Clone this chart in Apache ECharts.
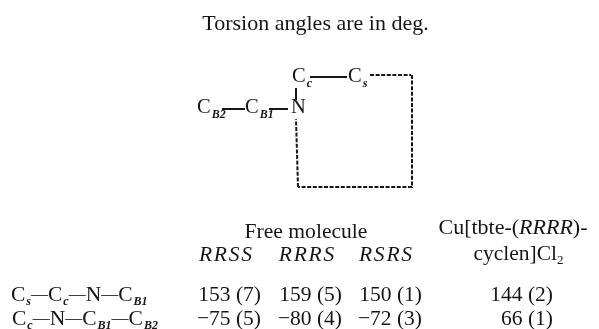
<!DOCTYPE html>
<html><head><meta charset="utf-8">
<style>html,body{margin:0;padding:0;background:#fff}#c{width:599px;height:329px}</style>
<script src="https://cdn.jsdelivr.net/npm/echarts@6/dist/echarts.min.js"></script>
</head><body><div id="c"></div>
<script>
const titleText = 'Torsion angles are in deg.';
const groupHead = 'Free molecule';
const isomers = ['RRSS','RRRS','RSRS'];
const complexLine1 = '{b|Cu[tbte-(}{j|RRRR}{b|)-}';
const complexLine2 = '{c|cyclen]Cl}{d|2}';
const rowLabels = ['{c|C}{s|s}{m|\u2014}{c|C}{s|c}{m|\u2014}{c|N}{m|\u2014}{c|C}{s|B1}','{c|C}{s|c}{m|\u2014}{c|N}{m|\u2014}{c|C}{s|B1}{m|\u2014}{c|C}{s|B2}'];
const row1Values = ['153 (7)','159 (5)','150 (1)','144 (2)'];
const row2Values = ['\u221275 (5)','\u221280 (4)','\u221272 (3)','66 (1)'];
const atomLabels = ['{n|C}{s|c}','{n|C}{s|s}','{n|N}','{n|C}{s|B2}','{n|C}{s|B1}'];

const F = '"Liberation Serif","Times New Roman",serif';
const FS = 20.5;
const ink = '#161616';
const rich = {
  n:{fontFamily:F,fontSize:FS,fill:ink,lineHeight:26},
  b:{fontFamily:F,fontSize:22,fill:ink,lineHeight:26},
  c:{fontFamily:F,fontSize:21.5,fill:ink,lineHeight:26},
  m:{fontFamily:F,fontSize:17,fill:ink,lineHeight:26},
  j:{fontFamily:F,fontSize:22,fontStyle:'italic',fill:ink,lineHeight:26},
  i:{fontFamily:F,fontSize:21.5,fontStyle:'italic',fill:ink,lineHeight:26},
  s:{fontFamily:F,fontSize:12,fontStyle:'italic',fontWeight:'bold',fill:ink,lineHeight:26,verticalAlign:'bottom',padding:[0,0,0,1]},
  d:{fontFamily:F,fontSize:13,fill:ink,lineHeight:26,verticalAlign:'bottom'}
};
function T(x,y,text,opts){
  return {type:'text',x,y,silent:true,style:Object.assign({text,rich,fontFamily:F,fontSize:FS,fill:ink,
    textAlign:'center',textVerticalAlign:'middle'},opts||{})};
}
const valueRight=[261,342,422,553];
const spaced=n=>'{i|'+n.split('').join('\u200a')+'}';
const isoX=[225.5,306.5,385.5];
const texts=[
  T(315.5,24,titleText,{fontSize:22}),
  T(306,232,groupHead,{fontSize:21.6}),
  T(513,228,complexLine1),
  T(518.5,254,complexLine2)
];
isomers.forEach((t,i)=>texts.push(T(isoX[i],255,spaced(t))));
row1Values.forEach((t,i)=>texts.push(T(valueRight[i],295,t,{textAlign:'right',fontSize:21.5})));
row2Values.forEach((t,i)=>texts.push(T(valueRight[i],319,t,{textAlign:'right',fontSize:21.5})));
texts.push(T(11,295,rowLabels[0],{textAlign:'left'}));
texts.push(T(12,319,rowLabels[1],{textAlign:'left'}));
[[292,77],[348,77],[291,108],[197,108],[245,108]].forEach((p,i)=>texts.push(T(p[0],p[1],atomLabels[i],{textAlign:'left'})));

const chart=echarts.init(document.getElementById('c'),null,{renderer:'canvas'});
const seg=(list,style)=>({type:'lines',coordinateSystem:'cartesian2d',polyline:false,silent:true,animation:false,
  lineStyle:style,data:list.map(c=>({coords:c}))});
chart.setOption({
  animation:false,
  grid:{left:0,right:0,top:0,bottom:0},
  xAxis:{type:'value',min:0,max:599,show:false},
  yAxis:{type:'value',min:0,max:329,inverse:true,show:false},
  series:[
    seg([[[310,77],[347,77]],[[296,88],[296,100]],[[222,109],[245,109]],[[269,109],[288,109]]],{color:ink,width:2,opacity:1}),
    seg([[[370,75],[411,75]],[[412,75],[412,188]],[[412,187],[298,187]],[[298,187],[296,119]]],{color:ink,width:2,type:[4,1.6],opacity:1})
  ],
  graphic:texts
});
</script></body></html>
